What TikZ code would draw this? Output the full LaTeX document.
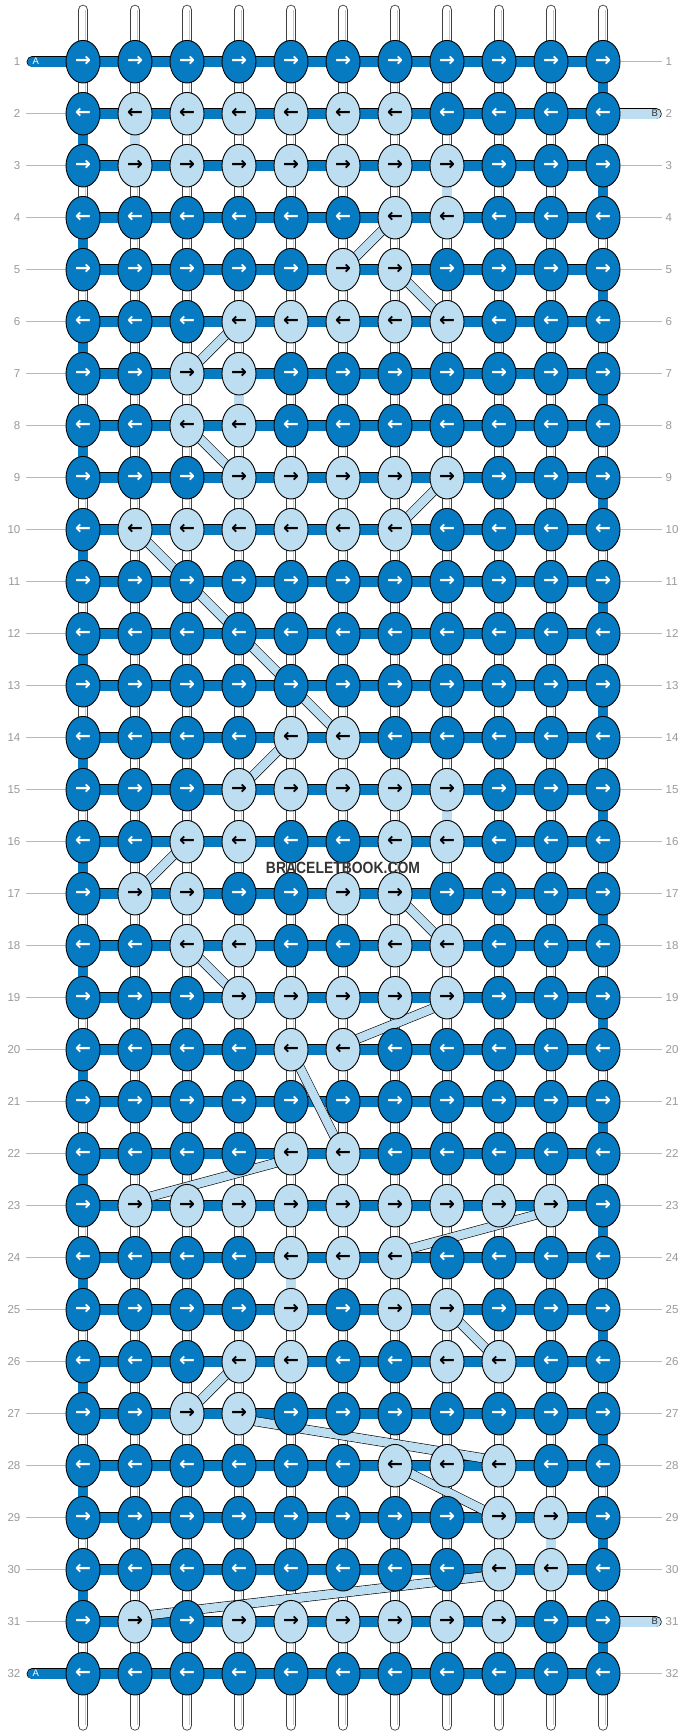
\documentclass[tikz,border=0pt]{standalone}
\usepackage{fontspec}
\setmainfont{Liberation Sans}
\newfontfamily\arrowfont{DejaVu Sans}
\usetikzlibrary{shapes.geometric}
\definecolor{dk}{HTML}{067BC2}
\definecolor{lt}{HTML}{BDDEF0}
\definecolor{lbl}{HTML}{9A9A9A}
\definecolor{wm}{HTML}{333333}
\pgfdeclarelayer{paper}
\pgfdeclarelayer{strings}
\pgfdeclarelayer{bars}
\pgfdeclarelayer{front}
\pgfsetlayers{paper,strings,bars,main,front}
\begin{document}
\begin{tikzpicture}[x=1pt,y=-1pt,
  knotbase/.style={ellipse, draw=black, line width=0.9, minimum width=34, minimum height=42.6, inner sep=0pt, font=\arrowfont\bfseries\fontsize{19}{19}\selectfont},
  dknot/.style={knotbase, fill=dk, text=white},
  lknot/.style={knotbase, fill=lt, text=black},
  vstring/.style={draw=black!75, line width=0.9, double=white, double distance=8.9, line cap=round},
  vshade/.style={draw=black!22, line width=0.8},
  darkbar/.style={draw=black, line width=0.65, double=dk, double distance=10},
  lightbar/.style={draw=black, line width=0.65, double=lt, double distance=10},
  darkseg/.style={draw=black, line width=0.7, double=dk, double distance=9.3},
  lightseg/.style={draw=black, line width=0.7, double=lt, double distance=9.3},
  band/.style={draw=black, line width=0.6, double=lt, double distance=8.5},
  rowlbl/.style={text=lbl, font=\fontsize{11.5}{12}\selectfont, inner sep=0pt},
  rowline/.style={draw=lbl!70, line width=0.8},
  endlbl/.style={font=\fontsize{9.5}{10}\selectfont, inner sep=0pt},
  brand/.style={text=wm, font=\bfseries\fontsize{16.3}{17}\selectfont, xscale=0.855, transform shape, inner sep=0pt}
]
\useasboundingbox (0,0) rectangle (688,1736);
\begin{pgfonlayer}{paper}
\fill[white] (0,0) rectangle (688,1736);
\end{pgfonlayer}

% grid coordinates
\foreach \r in {1,...,32}{
  \foreach \c in {1,...,11}{
    \coordinate (p-\r-\c) at ({83+52*(\c-1)},{61.7+52*(\r-1)});
  }
}
\foreach \c in {1,...,11}{
  \coordinate (st-\c) at ({83+52*(\c-1)},10.1);
  \coordinate (sb-\c) at ({83+52*(\c-1)},1725.3);
}

% light knots
\foreach \r/\cs in {2/{2,3,4,5,6,7},3/{2,3,4,5,6,7,8},4/{7,8},5/{6,7},6/{4,5,6,7,8},
  7/{3,4},8/{3,4},9/{4,5,6,7,8},10/{2,3,4,5,6,7},14/{5,6},15/{4,5,6,7,8},
  16/{3,4,7,8},17/{2,3,6,7},18/{3,4,7,8},19/{4,5,6,7,8},20/{5,6},22/{5,6},
  23/{2,3,4,5,6,7,8,9,10},24/{5,6,7},25/{5,7,8},26/{4,5,8,9},27/{3,4},
  28/{7,8,9},29/{9,10},30/{9,10},31/{2,4,5,6,7,8,9}}{
  \foreach \c in \cs {\expandafter\gdef\csname lt-\r-\c\endcsname{1}}
}

% vertical base strings
\begin{pgfonlayer}{strings}
\foreach \c in {1,...,11}{
  \draw[vstring] (st-\c) -- (sb-\c);
  \draw[vshade] ([xshift=2.3]st-\c) -- ([xshift=2.3]sb-\c);
}
\end{pgfonlayer}

\begin{pgfonlayer}{bars}
% row labels and guide lines
\foreach \r in {1,...,32}{
  \node[rowlbl, anchor=east] (ll-\r) at (20.5,{61.7+52*(\r-1)}) {\r};
  \node[rowlbl, anchor=west] (rl-\r) at (665.5,{61.7+52*(\r-1)}) {\r};
}
\foreach \r in {2,...,31}{\draw[rowline] ([xshift=5.5]ll-\r.east) -- (p-\r-1);}
\foreach \r in {1,3,4,5,6,7,8,9,10,11,12,13,14,15,16,17,18,19,20,21,22,23,24,25,26,27,28,29,30,32}{
  \draw[rowline] (p-\r-11) -- ([xshift=-4]rl-\r.west);
}
% horizontal knotting strings
\foreach \r in {1,...,32}{
  \foreach \c [count=\cn from 2] in {1,...,10}{
    \draw[darkbar] (p-\r-\c) -- (p-\r-\cn);
  }
}
% turns at the edges
\foreach \r in {1,3,...,31}{\pgfmathtruncatemacro\rn{\r+1}\draw[darkseg] (p-\r-11) -- (p-\rn-11);}
\foreach \r in {2,4,...,30}{\pgfmathtruncatemacro\rn{\r+1}\draw[darkseg] (p-\r-1) -- (p-\rn-1);}
% light vertical segments
\foreach \r/\c in {2/2,3/8,7/4,15/8,24/5,29/10}{
  \pgfmathtruncatemacro\rn{\r+1}\draw[lightseg] (p-\r-\c) -- (p-\rn-\c);
}
% light diagonal bands
\foreach \ra/\ca/\rb/\cb in {4/7/5/6,5/7/6/8,6/4/7/3,8/3/9/4,9/8/10/7,10/2/14/6,14/5/15/4,
  16/3/17/2,17/7/18/8,18/3/19/4,20/5/22/6,25/8/26/9,26/4/27/3,28/7/29/9}{
  \draw[band] (p-\ra-\ca) -- (p-\rb-\cb);
}
\foreach \ra/\ca/\rb/\cb in {19/8/20/6,22/5/23/2,23/10/24/7,27/4/28/9,30/9/31/2}{
  \draw[band] ([yshift=-5]p-\ra-\ca) -- ([yshift=5]p-\rb-\cb);
}
% string ends A and B
\coordinate (ea-1) at (32.3,61.7);
\coordinate (ea-32) at (32.3,1673.7);
\coordinate (eb-2) at (656,113.7);
\coordinate (eb-31) at (656,1621.7);
\draw[darkbar, line cap=round] (ea-1) -- (p-1-1);
\draw[darkbar, line cap=round] (ea-32) -- (p-32-1);
\draw[lightbar, line cap=round] (p-2-11) -- (eb-2);
\draw[lightbar, line cap=round] (p-31-11) -- (eb-31);
\end{pgfonlayer}

\node[endlbl, text=white] (la-1) at (35.8,61.7) {A};
\node[endlbl, text=white] (la-32) at (35.8,1673.7) {A};
\node[endlbl, text=wm] (lb-2) at (654.8,113.7) {B};
\node[endlbl, text=wm] (lb-31) at (654.8,1621.7) {B};

% knots
\foreach \r in {1,...,32}{
  \foreach \c in {1,...,11}{
    \ifodd\r\relax\def\ar{→}\else\def\ar{←}\fi
    \ifcsname lt-\r-\c\endcsname
      \node[lknot] (k-\r-\c) at (p-\r-\c) {\ar};
    \else
      \node[dknot] (k-\r-\c) at (p-\r-\c) {\ar};
    \fi
  }
}

\begin{pgfonlayer}{front}
\node[brand] (brand) at (343,867.7) {BRACELETBOOK.COM};
\end{pgfonlayer}
\end{tikzpicture}
\end{document}
